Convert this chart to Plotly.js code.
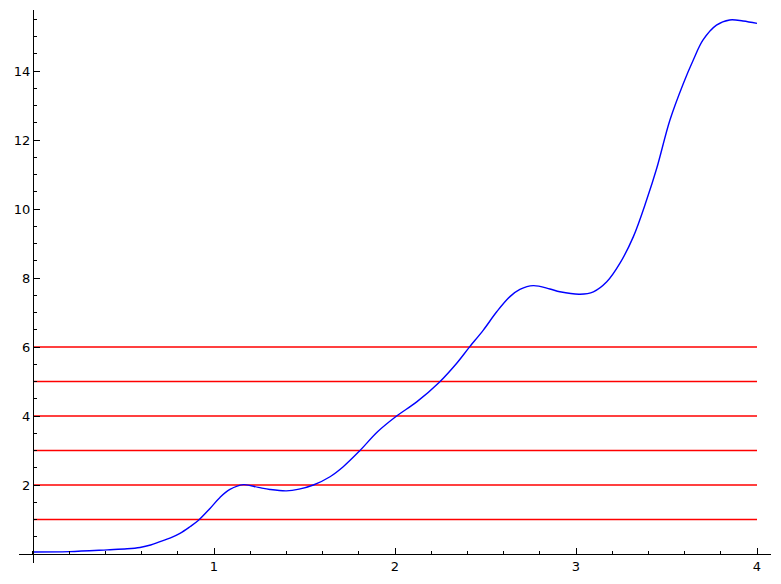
<!DOCTYPE html>
<html>
<head>
<meta charset="utf-8">
<script src="https://cdn.plot.ly/plotly-3.0.1.min.js"></script>
<style>
  html, body { margin: 0; padding: 0; background: #fff; }
  #chart { width: 781px; height: 584px; }
</style>
</head>
<body>
<div id="chart"></div>
<script>
// curve
const curveX = [0, 0.2, 0.41, 0.52, 0.591, 0.65, 0.702, 0.76, 0.812, 0.867, 0.913, 0.978, 1.033, 1.088, 1.162, 1.245, 1.309, 1.40, 1.47, 1.549, 1.641, 1.714, 1.803, 1.905, 2.009, 2.12, 2.245, 2.341, 2.41, 2.488, 2.562, 2.635, 2.69, 2.764, 2.856, 2.911, 3.022, 3.096, 3.17, 3.243, 3.317, 3.39, 3.446, 3.519, 3.593, 3.648, 3.702, 3.776, 3.849, 3.923, 4.0];
const curveY = [0.06, 0.07, 0.12, 0.15, 0.19, 0.26, 0.36, 0.47, 0.60, 0.79, 0.97, 1.32, 1.64, 1.87, 2.01, 1.93, 1.87, 1.83, 1.88, 2.0, 2.24, 2.53, 2.98, 3.55, 4.0, 4.41, 4.98, 5.53, 5.99, 6.49, 7.02, 7.46, 7.67, 7.78, 7.68, 7.60, 7.53, 7.60, 7.89, 8.43, 9.2, 10.26, 11.18, 12.58, 13.64, 14.32, 14.90, 15.33, 15.48, 15.45, 15.38];

// horizontal levels
const levels = [1, 2, 3, 4, 5, 6];
const levelStart = 0;
const levelEnd = 4;

const xTicks = [1, 2, 3, 4];
const yTicks = [2, 4, 6, 8, 10, 12, 14];

const traces = levels.map(function (lv) {
    return {
        x: [levelStart, levelEnd],
        y: [lv, lv],
        type: 'scatter',
        mode: 'lines',
        line: { color: '#ff0000', width: 1.5 },
        hoverinfo: 'skip'
    };
});

traces.push({
    x: curveX,
    y: curveY,
    type: 'scatter',
    mode: 'lines',
    line: { color: '#0000ff', width: 1.4, shape: 'spline', smoothing: 1 },
});

const axisFont = { family: 'DejaVu Sans', size: 13, color: '#000' };

const layout = {
    width: 781,
    height: 584,
    showlegend: false,
    paper_bgcolor: '#fff',
    plot_bgcolor: '#fff',
    margin: { l: 19, r: 10, t: 10, b: 21 },
    font: axisFont,
    xaxis: {
        range: [-0.0773, 4.0773],
        anchor: 'free',
        position: 0.01627,
        showgrid: false,
        zeroline: false,
        showline: true,
        linecolor: '#000',
        linewidth: 1,
        tickmode: 'array',
        tickvals: xTicks,
        tickfont: axisFont,
        ticks: 'inside',
        ticklen: 6,
        tickcolor: '#000',
        minor: { tickmode: 'linear', tick0: 0, dtick: 0.2, ticks: 'inside', ticklen: 3, tickcolor: '#000', showgrid: false }
    },
    yaxis: {
        range: [-0.261, 15.768],
        anchor: 'free',
        position: 0.01862,
        showgrid: false,
        zeroline: false,
        showline: true,
        linecolor: '#000',
        linewidth: 1,
        tickmode: 'array',
        tickvals: yTicks,
        tickfont: axisFont,
        ticks: 'inside',
        ticklen: 6,
        tickcolor: '#000',
        minor: { tickmode: 'linear', tick0: 0, dtick: 0.5, ticks: 'inside', ticklen: 3, tickcolor: '#000', showgrid: false }
    }
};

Plotly.newPlot('chart', traces, layout, { displayModeBar: false, staticPlot: true });
</script>
</body>
</html>
